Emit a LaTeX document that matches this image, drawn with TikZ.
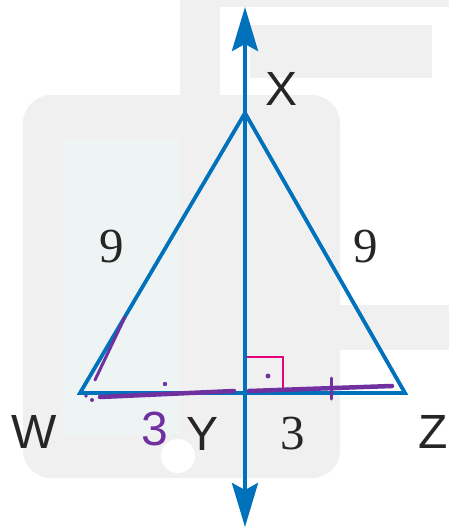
\documentclass[tikz,border=0pt]{standalone}
\usepackage{fontspec}
\setmainfont{Liberation Sans}
\newfontfamily\digitfont{Liberation Serif}
\definecolor{segblue}{RGB}{0,114,188}
\definecolor{penpurple}{RGB}{112,48,160}
\definecolor{rightmag}{RGB}{230,0,126}
\definecolor{wmgray}{RGB}{240,240,240}
\definecolor{wmgreen}{RGB}{238,244,243}
\usetikzlibrary{arrows.meta}

\begin{document}
\begin{tikzpicture}[x=1pt, y=-1pt,
  seg/.style={draw=segblue, line width=3.8pt, line join=miter},
  bisector/.style={draw=segblue, line width=4.2pt, {Stealth[length=44pt,width=26pt,inset=7pt]}-{Stealth[length=44pt,width=26pt,inset=7pt]}},
  pen/.style={draw=penpurple, line width=4.5pt, line cap=round},
  lbl/.style={font=\fontsize{48}{52}\selectfont, text=black!85, inner sep=0pt},
  num/.style={font=\digitfont\fontsize{49}{53}\selectfont, text=black!85, inner sep=0pt}]
  \useasboundingbox (0,0) rectangle (449,528);
  \fill[white] (0,0) rectangle (449,528);

  %--- watermark background ---
  \fill[wmgray] (180,0) rectangle (449,350);
  \fill[white] (220,7) rectangle (449,305);
  \fill[wmgray] (250,25) rectangle (432,78);
  \fill[wmgray, rounded corners=28pt] (23,95) rectangle (340,478);
  \fill[wmgreen] (63,138) rectangle (180,435);
  \fill[white] (178,456) circle (17);

  % points
  \coordinate (W) at (80,393);
  \coordinate (X) at (245,113);
  \coordinate (Z) at (405,393);
  \coordinate (Y) at (245,393);
  \coordinate (top) at (245,7);
  \coordinate (bot) at (245,527);

  % right angle mark
  \coordinate (ra1) at (245,357);
  \coordinate (ra2) at (283,357);
  \coordinate (ra3) at (283,393);
  \draw[rightmag, line width=2.6pt] (ra1) -- (ra2) -- (ra3);

  % triangle and bisector
  \draw[seg] (W) -- (X) -- (Z) -- cycle;
  \draw[bisector] (top) -- (bot);

  % labels
  \node[lbl] (lX) at (282,89) {X};
  \node[lbl] (lW) at (34,432) {W};
  \node[lbl] (lY) at (203,434) {Y};
  \node[lbl] (lZ) at (433,432) {Z};
  \node[num] (n9a) at (112,247) {9};
  \node[num] (n9b) at (366,247) {9};
  \node[num] (n3) at (293,434) {3};

  %--- pen marks ---
  \node[lbl, text=penpurple] (p3) at (155,429) {3};
  \coordinate (a1) at (100,397);
  \coordinate (a2) at (234,391);
  \coordinate (b1) at (249,391);
  \coordinate (b2) at (392,386);
  \coordinate (c1) at (95,380);
  \coordinate (c2) at (125,317);
  \coordinate (t1) at (331,378);
  \coordinate (t2) at (331,399);
  \draw[pen] (a1) -- (a2);
  \draw[pen] (b1) -- (b2);
  \draw[pen, line width=3pt] (c1) -- (c2);
  \draw[pen, line width=3pt] (t1) -- (t2);
  \fill[penpurple] (165,384) circle (2.2);
  \fill[penpurple] (268,376) circle (2.4);
  \fill[penpurple] (86,396) circle (1.8);
  \fill[penpurple] (92,400) circle (2);
\end{tikzpicture}
\end{document}
